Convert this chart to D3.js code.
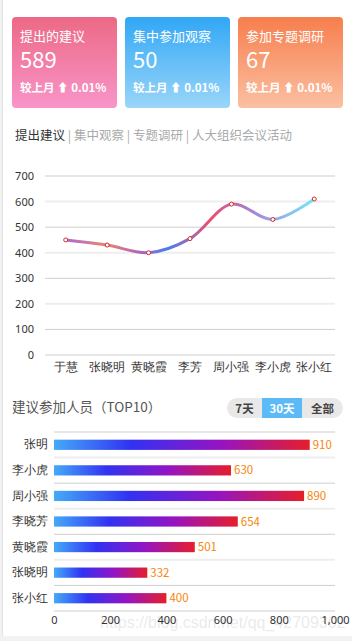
<!DOCTYPE html>
<html>
<head>
<meta charset="utf-8">
<title>建议统计</title>
<style>
  html, body { margin: 0; padding: 0; background: #f2f2f2; }
  svg { display: block; font-family: "Noto Sans CJK SC", "Noto Sans", sans-serif; }
</style>
<script src="https://cdnjs.cloudflare.com/ajax/libs/d3/7.8.5/d3.min.js"></script>
</head>
<body>
<div id="chart"></div>
<script>
// summary cards
const cardTitles = ["提出的建议", "集中参加观察", "参加专题调研"];
const cardValues = [589, 50, 67];
const cardChange = ["0.01%", "0.01%", "0.01%"];
const cardColors = [["#ec6985", "#f895c9"], ["#31a7f5", "#9ad6f9"], ["#f77e4d", "#fbc0a2"]];

// line chart
const tabs = ["提出建议", "集中观察", "专题调研", "人大组织会议活动"];
const lineNames = ["于慧", "张晓明", "黄晓霞", "李芳", "周小强", "李小虎", "张小红"];
const lineValues = [450, 430, 400, 455, 590, 530, 610];
const lineTicks = [0, 100, 200, 300, 400, 500, 600, 700];

// bar chart
const barNames = ["张明", "李小虎", "周小强", "李晓芳", "黄晓霞", "张晓明", "张小红"];
const barValues = [910, 630, 890, 654, 501, 332, 400];
const barTicks = [0, 200, 400, 600, 800, 1000];
const ranges = ["7天", "30天", "全部"];

const W = 352, H = 641;
const svg = d3.select("#chart").append("svg").attr("width", W).attr("height", H);
const defs = svg.append("defs");

// page panel
svg.append("rect").attr("x", 0).attr("y", 0).attr("width", W).attr("height", H).attr("fill", "#f2f2f2");
svg.append("rect").attr("x", 3).attr("y", 0).attr("width", W - 3).attr("height", 636).attr("fill", "#fff");
svg.append("line").attr("x1", 2.5).attr("x2", 2.5).attr("y1", 0).attr("y2", 636).attr("stroke", "#e3e3e3");

// ---- cards ----
cardTitles.forEach((t, i) => {
    const g = defs.append("linearGradient").attr("id", "card" + i)
        .attr("x1", 0).attr("y1", 0).attr("x2", 0).attr("y2", 1);
    g.append("stop").attr("offset", 0).attr("stop-color", cardColors[i][0]);
    g.append("stop").attr("offset", 1).attr("stop-color", cardColors[i][1]);
    const x = 12 + i * 113;
    const c = svg.append("g").attr("transform", `translate(${x},17)`);
    c.append("rect").attr("width", 105).attr("height", 91).attr("rx", 4).attr("fill", `url(#card${i})`);
    c.append("text").attr("x", 8).attr("y", 24).attr("fill", "#fff").style("font-size", "13px").text(t);
    c.append("text").attr("x", 8).attr("y", 51).attr("fill", "#fff").style("font-size", "22px").text(cardValues[i]);
    c.append("text").attr("x", 8).attr("y", 75).attr("fill", "#fff").style("font-size", "11.5px")
        .text("较上月 \u2B06 " + cardChange[i]).style("font-weight", "bold");
});

// ---- tabs ----
const tabText = svg.append("text").attr("x", 15).attr("y", 140).style("font-size", "12.5px");
tabs.forEach((t, i) => {
    if (i > 0) tabText.append("tspan").attr("fill", "#aaa").text(" | ");
    tabText.append("tspan").attr("fill", i === 0 ? "#333" : "#aaa").text(t);
});

// ---- line chart ----
const lx = d3.scaleBand().domain(lineNames).range([45, 335]);
const ly = d3.scaleLinear().domain([0, 700]).range([355, 176]);

svg.append("g").selectAll("line").data(lineTicks).join("line")
    .attr("x1", 45).attr("x2", 335)
    .attr("y1", d => ly(d)).attr("y2", d => ly(d))
    .attr("stroke", d => (d / 100) % 2 === 0 && d > 0 ? "#eeeeee" : "#cfcfcf")
    .attr("stroke-width", d => (d / 100) % 2 === 0 && d > 0 ? 2 : 1);

const yAxisL = svg.append("g").attr("transform", "translate(34,0)")
    .call(d3.axisLeft(ly).tickValues(lineTicks).tickSize(0).tickPadding(0));
yAxisL.select(".domain").remove();
yAxisL.selectAll("text").attr("fill", "#333").style("font-size", "11px").style("font-family", "\"Noto Sans\", sans-serif");

const xAxisL = svg.append("g").attr("transform", "translate(0,363)")
    .call(d3.axisBottom(lx).tickSize(0).tickPadding(0));
xAxisL.select(".domain").remove();
xAxisL.selectAll("text").attr("fill", "#333").style("font-size", "11.5px");

const lg = defs.append("linearGradient").attr("id", "lineGrad")
    .attr("gradientUnits", "userSpaceOnUse").attr("x1", 45).attr("x2", 335).attr("y1", 0).attr("y2", 0);
[[0.07, "#a86cd8"], [0.21, "#e8866c"], [0.33, "#b062c0"], [0.42, "#4a7cf0"], [0.5, "#9a6ab8"],
 [0.57, "#f04c6c"], [0.64, "#c464a4"], [0.72, "#a486d8"], [0.81, "#92b2ea"], [0.93, "#72e6f8"]]
    .forEach(s => lg.append("stop").attr("offset", s[0]).attr("stop-color", s[1]));

const cx = d => lx(d) + lx.bandwidth() / 2;
const pts = lineNames.map((n, i) => [cx(n), ly(lineValues[i])]);
svg.append("path").datum(pts)
    .attr("d", d3.line().curve(d3.curveCatmullRom.alpha(0.5)))
    .attr("fill", "none").attr("stroke", "url(#lineGrad)").attr("stroke-width", 3);
svg.append("g").selectAll("circle").data(pts).join("circle")
    .attr("cx", d => d[0]).attr("cy", d => d[1]).attr("r", 2)
    .attr("fill", "#fff").attr("stroke", "#d42a2a").attr("stroke-width", 1);

// ---- bar chart header ----
svg.append("text").attr("x", 12).attr("y", 412).attr("fill", "#555").style("font-size", "13.5px")
    .text("建议参加人员（TOP10）");
const btn = svg.append("g");
btn.append("rect").attr("x", 227).attr("y", 398).attr("width", 116).attr("height", 20).attr("rx", 10).attr("fill", "#e8e8e8");
const bx = [227, 262, 302, 343];
ranges.forEach((r, i) => {
    if (i === 1) btn.append("rect").attr("x", bx[1]).attr("y", 398).attr("width", bx[2] - bx[1]).attr("height", 20).attr("fill", "#5cbaf6");
    btn.append("text").attr("x", (bx[i] + bx[i + 1]) / 2).attr("y", 412.5).attr("text-anchor", "middle")
        .attr("fill", i === 1 ? "#fff" : "#444").style("font-size", "11.5px").style("font-weight", "bold").text(r);
});

// ---- bar chart ----
const bxS = d3.scaleLinear().domain([0, 1000]).range([54, 335]);
const byS = d3.scaleBand().domain(barNames).range([432, 611]).paddingInner(0.6).paddingOuter(0.3);

const edges = d3.range(barNames.length + 1).map(i => 432 + i * (611 - 432) / barNames.length);
svg.append("g").selectAll("line").data(edges).join("line")
    .attr("x1", 54).attr("x2", 335)
    .attr("y1", d => d).attr("y2", d => d)
    .attr("stroke", (d, i) => i % 2 === 1 && i < barNames.length ? "#eeeeee" : "#cfcfcf")
    .attr("stroke-width", (d, i) => i % 2 === 1 && i < barNames.length ? 2 : 1);

const bg = defs.append("linearGradient").attr("id", "barGrad").attr("x1", 0).attr("x2", 1).attr("y1", 0).attr("y2", 0);
[[0, "#44aaf8"], [0.3, "#3132f2"], [0.65, "#9514c2"], [1, "#e61e2a"]]
    .forEach(s => bg.append("stop").attr("offset", s[0]).attr("stop-color", s[1]));

svg.append("g").selectAll("rect").data(barValues).join("rect")
    .attr("x", bxS(0)).attr("y", (d, i) => byS(barNames[i]))
    .attr("width", d => bxS(d) - bxS(0)).attr("height", byS.bandwidth())
    .attr("fill", "url(#barGrad)");

svg.append("g").selectAll("text").data(barValues).join("text")
    .attr("x", d => bxS(d) + 3).attr("y", (d, i) => byS(barNames[i]) + byS.bandwidth() / 2)
    .attr("dy", "0.35em").attr("fill", "#f5860a").style("font-size", "11.5px").text(d => d);

const yAxisB = svg.append("g").attr("transform", "translate(48,0)")
    .call(d3.axisLeft(byS).tickSize(0).tickPadding(0));
yAxisB.select(".domain").remove();
yAxisB.selectAll("text").attr("fill", "#333").style("font-size", "11.5px");

const xAxisB = svg.append("g").attr("transform", "translate(0,616)")
    .call(d3.axisBottom(bxS).tickValues(barTicks).tickSize(0).tickPadding(0).tickFormat(d3.format(",")));
xAxisB.select(".domain").remove();
xAxisB.selectAll("text").attr("fill", "#333").attr("dy", "0.71em").style("font-size", "11px").style("font-family", "\"Noto Sans\", sans-serif");

// watermark
svg.append("text").attr("x", 100).attr("y", 628).attr("fill", "#000").attr("opacity", 0.08)
    .style("font-size", "16px").style("font-family", "Arial, \"Liberation Sans\", sans-serif")
    .text("https://blog.csdn.net/qq_42709302");
</script>
</body>
</html>
